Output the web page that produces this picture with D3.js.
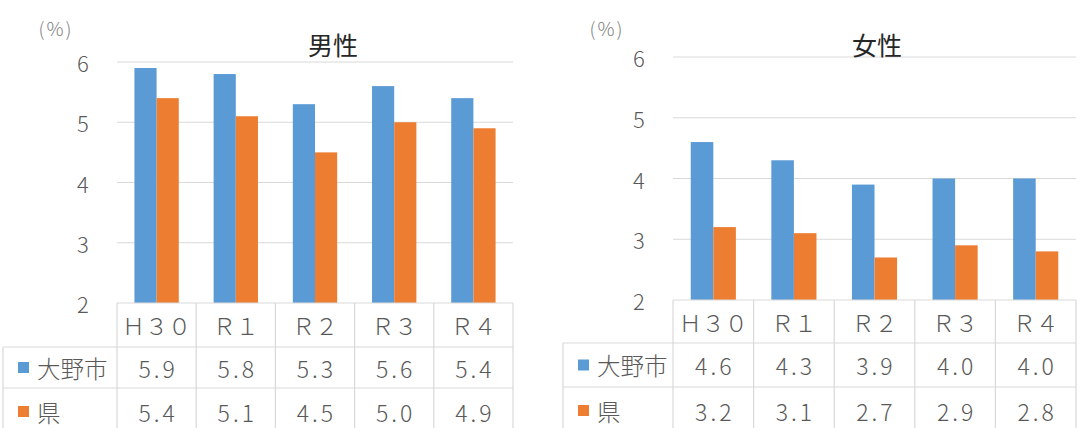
<!DOCTYPE html>
<html lang="ja">
<head>
<meta charset="utf-8">
<script src="https://cdn.jsdelivr.net/npm/d3@7"></script>
<style>
  html, body { margin: 0; padding: 0; background: #fff; }
  svg { display: block; font-family: "Noto Sans CJK JP", "Noto Sans", sans-serif; }
</style>
</head>
<body>
<svg id="chart" width="1081" height="428"></svg>
<script>
// Fiscal years (full-width labels as in the printed table)
const categories = ["Ｈ３０", "Ｒ１", "Ｒ２", "Ｒ３", "Ｒ４"];
const seriesNames = ["大野市", "県"];
const seriesColors = ["#5B9BD5", "#ED7D31"];
const yTicks = [2, 3, 4, 5, 6];

// Rates (%) — men
const maleCity = [5.9, 5.8, 5.3, 5.6, 5.4];
const malePref = [5.4, 5.1, 4.5, 5.0, 4.9];
// Rates (%) — women
const femaleCity = [4.6, 4.3, 3.9, 4.0, 4.0];
const femalePref = [3.2, 3.1, 2.7, 2.9, 2.8];

const svg = d3.select("#chart");
const fmt = d3.format(".1f");
const gridColor = "#d9d9d9";
const textColor = "#595959";

function drawPanel(p) {
  const g = svg.append("g");
  const series = [p.city, p.pref];

  const x = d3.scaleBand().domain(categories).range([p.left, p.right]).padding(0);
  const xi = d3.scaleBand().domain(seriesNames).range([0, x.bandwidth()])
    .paddingInner(0).paddingOuter(0.786);
  const y = d3.scaleLinear().domain([2, 6]).range([p.bottom, p.top]);

  // horizontal gridlines
  g.append("g").selectAll("line").data(yTicks.filter(t => t > 2)).join("line")
    .attr("x1", p.left).attr("x2", p.right)
    .attr("y1", d => y(d)).attr("y2", d => y(d))
    .attr("stroke", gridColor).attr("stroke-width", 1.2);

  // y-axis tick labels
  g.append("g").selectAll("text").data(yTicks).join("text")
    .attr("x", p.left - 34).attr("y", d => y(d))
    .attr("text-anchor", "middle").attr("dominant-baseline", "central")
    .attr("font-size", 22).attr("font-weight", 300).attr("fill", textColor)
    .text(d => d);

  // bars
  seriesNames.forEach((name, si) => {
    g.append("g").selectAll("rect").data(series[si]).join("rect")
      .attr("x", (d, i) => x(categories[i]) + xi(name))
      .attr("width", xi.bandwidth())
      .attr("y", d => y(d))
      .attr("height", d => y(2) - y(d))
      .attr("fill", seriesColors[si]);
  });

  // data table
  const rowTops = [p.bottom, p.headBottom, p.row1Bottom, 440];
  const tbl = g.append("g").attr("stroke", gridColor).attr("stroke-width", 1.2);
  tbl.append("line").attr("x1", p.left).attr("x2", p.right)
    .attr("y1", rowTops[0]).attr("y2", rowTops[0]);
  [rowTops[1], rowTops[2]].forEach(yy => {
    tbl.append("line").attr("x1", p.tableLeft).attr("x2", p.right)
      .attr("y1", yy).attr("y2", yy);
  });
  tbl.append("line").attr("x1", p.tableLeft).attr("x2", p.tableLeft)
    .attr("y1", rowTops[1]).attr("y2", 440);
  const edges = categories.map(c => x(c)).concat([p.right]);
  tbl.selectAll("line.v").data(edges).join("line").attr("class", "v")
    .attr("x1", d => d).attr("x2", d => d)
    .attr("y1", rowTops[0]).attr("y2", 440);

  // header row: fiscal years
  g.append("g").selectAll("text").data(categories).join("text")
    .attr("x", d => x(d) + x.bandwidth() / 2)
    .attr("y", (rowTops[0] + rowTops[1]) / 2)
    .attr("text-anchor", "middle").attr("dominant-baseline", "central")
    .attr("font-size", 23).attr("font-weight", 300).attr("fill", textColor)
    .text(d => d);

  // series rows (the last row runs past the bottom edge)
  const rowCenters = [(rowTops[1] + rowTops[2]) / 2, rowTops[2] + 23.5];
  seriesNames.forEach((name, si) => {
    const cy = rowCenters[si];
    g.append("rect")
      .attr("x", p.tableLeft + 15).attr("y", cy - 5.5)
      .attr("width", 11).attr("height", 11).attr("fill", seriesColors[si]);
    g.append("text")
      .attr("x", p.tableLeft + 34).attr("y", cy)
      .attr("dominant-baseline", "central")
      .attr("font-size", 23.5).attr("font-weight", 300).attr("fill", textColor)
      .text(name);
    g.append("g").selectAll("text").data(series[si]).join("text")
      .attr("x", (d, i) => x(categories[i]) + x.bandwidth() / 2 + 1.5)
      .attr("y", cy)
      .attr("text-anchor", "middle").attr("dominant-baseline", "central")
      .attr("font-size", 23).attr("font-weight", 300).attr("letter-spacing", 3)
      .attr("fill", textColor)
      .text(d => fmt(d));
  });

  // title and unit
  g.append("text").attr("x", p.titleX).attr("y", 44)
    .attr("text-anchor", "middle").attr("dominant-baseline", "central")
    .attr("font-size", 25).attr("fill", "#262626").text(p.title);
  g.append("text").attr("x", p.unitX).attr("y", 27)
    .attr("text-anchor", "middle").attr("dominant-baseline", "central")
    .attr("font-size", 19).attr("font-weight", 300).attr("letter-spacing", 2)
    .attr("fill", "#7f7f7f").text("(%)");
}

drawPanel({
  title: "男性", city: maleCity, pref: malePref,
  left: 117, right: 513, top: 62, bottom: 303,
  tableLeft: 3, headBottom: 347, row1Bottom: 388,
  titleX: 333, unitX: 56
});

drawPanel({
  title: "女性", city: femaleCity, pref: femalePref,
  left: 673, right: 1076, top: 57, bottom: 300,
  tableLeft: 563, headBottom: 343, row1Bottom: 387,
  titleX: 877, unitX: 607
});
</script>
</body>
</html>
